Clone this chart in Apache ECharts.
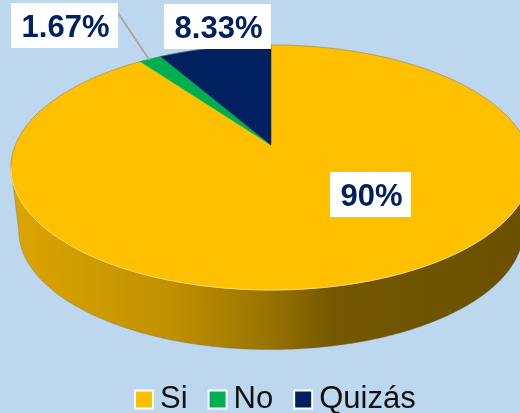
<!DOCTYPE html>
<html>
<head>
<meta charset="utf-8">
<style>html,body{margin:0;padding:0;background:#BDD7EE}#c{width:520px;height:413px}</style>
<script src="https://cdn.jsdelivr.net/npm/echarts@6/dist/echarts.min.js"></script>
</head>
<body>
<div id="c"></div>
<script>
const categories = ['Si', 'No', 'Quizás'];
const seriesValues = [90, 1.67, 8.33];
const sliceColors = ['#FFC000', '#00B050', '#002060'];
const valueLabels = ['90%', '1.67%', '8.33%'];

// layout of the tilted disc (perspective projection of a unit circle)
const CX = 271, APEX_Y = 145, A = 255.6, B = 118.4, K = 0.1837;
const WALL_SCALE = 0.97, TOP_CY = 167.5, BOTTOM_CY = 230.7;
const labelBoxes = [
  { x: 330, y: 172, w: 81, h: 45 },
  { x: 11, y: 3, w: 107, h: 45 },
  { x: 164, y: 4, w: 107, h: 45 }
];
const TOTAL = seriesValues.reduce((a, b) => a + b, 0);
const FRONT_START = Math.acos(-K), FRONT_END = 2 * Math.PI - FRONT_START;

function project(phi, r) {
  const u = r * Math.sin(phi), v = -r * Math.cos(phi), w = 1 - K * v;
  return [CX + A * u / w, APEX_Y + B * v / w];
}
function lower(p) {
  return [CX + (p[0] - CX) * WALL_SCALE, BOTTOM_CY + (p[1] - TOP_CY) * WALL_SCALE];
}
function arc(a0, a1) {
  const n = Math.max(2, Math.ceil(Math.abs(a1 - a0) / 0.01)), pts = [];
  for (let i = 0; i <= n; i++) pts.push(project(a0 + (a1 - a0) * i / n, 1));
  return pts;
}
const wallFill = {
  type: 'linear', x: 11, y: 0, x2: 531, y2: 0, global: true,
  colorStops: [
    { offset: 0, color: '#DCA600' },
    { offset: 0.31, color: '#C09000' },
    { offset: 0.48, color: '#9C7600' },
    { offset: 0.62, color: '#745800' },
    { offset: 1, color: '#6A5000' }
  ]
};

function makeRender(i) {
  return function () {
    const before = seriesValues.slice(0, i).reduce((a, b) => a + b, 0);
    const a0 = before / TOTAL * 2 * Math.PI;
    const a1 = (before + seriesValues[i]) / TOTAL * 2 * Math.PI;
    const children = [];
    const f0 = Math.max(a0, FRONT_START), f1 = Math.min(a1, FRONT_END);
    if (f1 > f0) {
      const topEdge = arc(f0, f1);
      const wall = topEdge.concat(topEdge.slice().reverse().map(lower));
      children.push({ type: 'polygon', shape: { points: wall },
        style: { fill: wallFill, stroke: 'rgba(105,105,105,0.45)', lineWidth: 0.8 } });
    }
    const slice = [project(0, 0)].concat(arc(a0, a1));
    children.push({ type: 'polygon', shape: { points: slice },
      style: { fill: sliceColors[i], stroke: sliceColors[i], lineWidth: 0.5 } });
    const back = [];
    if (a0 < FRONT_START) back.push(arc(a0, Math.min(a1, FRONT_START)));
    if (a1 > FRONT_END) back.push(arc(Math.max(a0, FRONT_END), a1));
    back.forEach(p => children.push({ type: 'polyline', shape: { points: p },
      style: { fill: null, stroke: 'rgba(110,110,110,0.55)', lineWidth: 0.8 } }));
    if (f1 > f0) {
      children.push({ type: 'polyline', shape: { points: arc(f0, f1) },
        style: { fill: null, stroke: 'rgba(255,238,190,0.8)', lineWidth: 0.8 } });
    }
    if (i === 1) {
      const mid = project((a0 + a1) / 2, 1);
      children.push({ type: 'line',
        shape: { x1: labelBoxes[i].x + labelBoxes[i].w, y1: labelBoxes[i].y + 10, x2: mid[0] - 1, y2: mid[1] + 1 },
        style: { stroke: '#A6A6A6', lineWidth: 1.75 } });
    }
    const box = labelBoxes[i];
    children.push({ type: 'rect', shape: { x: box.x, y: box.y, width: box.w, height: box.h },
      style: { fill: '#FFFFFF' } });
    children.push({ type: 'text', style: {
      x: box.x + box.w / 2 + 1, y: box.y + box.h / 2 + 3, text: valueLabels[i],
      align: 'center', verticalAlign: 'middle',
      font: 'bold 31px "Liberation Sans", Arial, sans-serif', fill: '#002060' } });
    return { type: 'group', children };
  };
}

const chart = echarts.init(document.getElementById('c'), null, { renderer: 'canvas' });
chart.setOption({
  animation: false,
  backgroundColor: '#BDD7EE',
  legend: {
    data: categories,
    left: 134, top: 384,
    itemWidth: 18, itemHeight: 18, itemGap: 20, icon: 'rect',
    padding: 0, selectedMode: false,
    itemStyle: { borderColor: '#FFFFFF', borderWidth: 2 },
    textStyle: { fontFamily: '"Liberation Sans", Arial, sans-serif', fontSize: 31, color: '#111111', padding: [0, 0, 0, 2] }
  },
  series: categories.map((name, i) => ({
    type: 'custom', name, coordinateSystem: 'none', silent: true,
    itemStyle: { color: sliceColors[i] },
    data: [seriesValues[i]],
    renderItem: makeRender(i)
  }))
});
</script>
</body>
</html>
